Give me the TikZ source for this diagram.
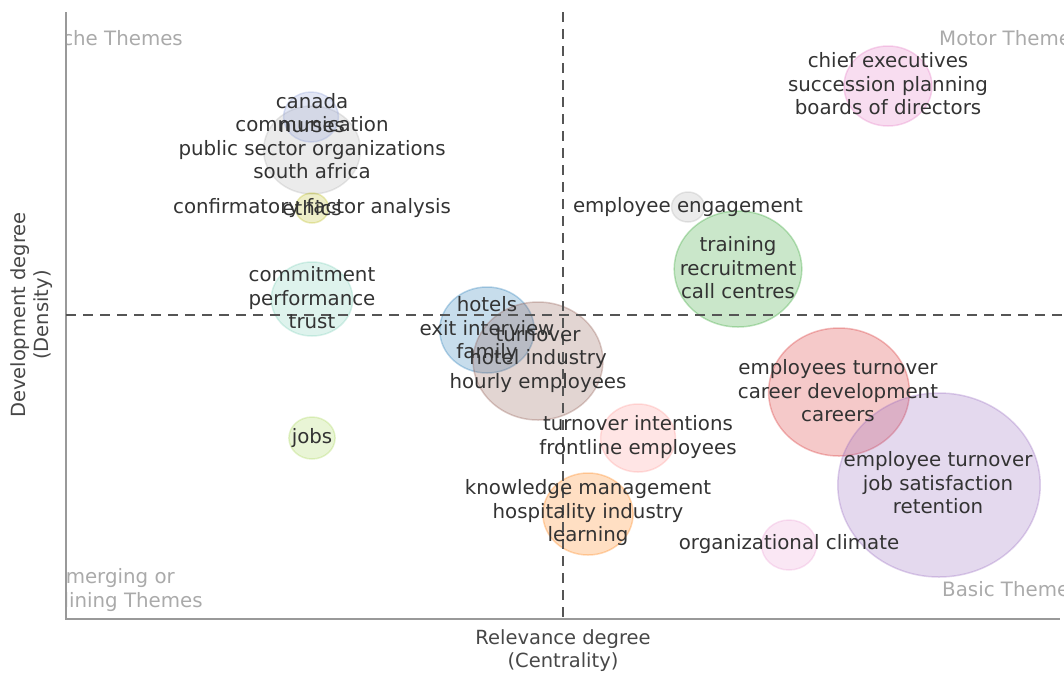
\documentclass[tikz,border=0pt]{standalone}
\usepackage{fontspec}
\setmainfont{DejaVu Sans}
\usetikzlibrary{shapes.geometric}

\definecolor{txtgray}{HTML}{333333}
\definecolor{axisgray}{HTML}{999999}
\definecolor{quadgray}{HTML}{AAAAAA}
\definecolor{dashgray}{HTML}{555555}
\definecolor{cPink}{HTML}{E377C2}
\definecolor{cBlue}{HTML}{1F77B4}
\definecolor{cGray}{HTML}{B0B0B0}
\definecolor{cOlive}{HTML}{BCBD22}
\definecolor{cTeal}{HTML}{7CCFB8}
\definecolor{cLime}{HTML}{A8D65A}
\definecolor{cBrown}{HTML}{8C564B}
\definecolor{cSalmon}{HTML}{FF9896}
\definecolor{cOrange}{HTML}{FF7F0E}
\definecolor{cGreen}{HTML}{2CA02C}
\definecolor{cRed}{HTML}{D62728}
\definecolor{cPurple}{HTML}{9467BD}
\definecolor{cLav}{HTML}{8E9FD8}

\newcommand{\lblfont}{\fontsize{19.8}{23.5}\selectfont}

\tikzset{
  bubble/.style={ellipse, inner sep=0pt, minimum width=2.2*#1, minimum height=2*#1},
  bcol/.style={fill=#1, fill opacity=0.25, draw=#1, draw opacity=0.3, line width=1.5pt},
  term/.style={text=txtgray, align=center, font=\lblfont, inner sep=0pt},
  quad/.style={text=quadgray, align=center, font=\lblfont, inner sep=0pt},
  axtitle/.style={text=txtgray!90, align=center, font=\fontsize{19.5}{23}\selectfont, inner sep=0pt}
}

\begin{document}
\begin{tikzpicture}[x=1pt, y=-1pt]
    \useasboundingbox (0,0) rectangle (1064,673);

    % Axes
    \coordinate (top) at (66,12);
    \coordinate (origin) at (66,619);
    \coordinate (right) at (1060,619);
    \coordinate (midtop) at (563,12);
    \coordinate (midbot) at (563,619);
    \coordinate (midleft) at (66,315);
    \coordinate (midright) at (1064,315);

    % Bubbles
    \node[bubble=40, bcol=cPink] (chief) at (888,86) {};
    \node[bubble=44, bcol=cGray] (commu) at (312,150) {};
    \node[bubble=25, bcol=cLav] (canada) at (311,117) {};
    \node[bubble=15, bcol=cOlive] (ethics) at (312,208) {};
    \node[bubble=37, bcol=cTeal] (commit) at (312,299) {};
    \node[bubble=21, bcol=cLime] (jobs) at (312,438) {};
    \node[bubble=43, bcol=cBlue] (hotels) at (487,330) {};
    \node[bubble=59, bcol=cBrown] (turn) at (538,361) {};
    \node[bubble=34, bcol=cSalmon] (intent) at (638,438) {};
    \node[bubble=41, bcol=cOrange] (know) at (588,514) {};
    \node[bubble=15, bcol=cGray] (engage) at (688,207) {};
    \node[bubble=58, bcol=cGreen] (train) at (738,269) {};
    \node[bubble=64, bcol=cRed] (career) at (839,392) {};
    \node[bubble=92, bcol=cPurple] (satis) at (939,485) {};
    \node[bubble=25, bcol=cPink!70] (climate) at (789,545) {};

    % Quadrant names
    \begin{scope}
      \clip (top) rectangle (midright |- origin);
      \node[quad, anchor=east] (niche) at (183,38) {Niche Themes};
      \node[quad, anchor=west] (motor) at (939,38) {Motor Themes};
      \node[quad] (emerg) at (114,590) {Emerging or\\Declining Themes};
      \node[quad, anchor=west] (basic) at (942,589) {Basic Themes};
    \end{scope}

    % Axis lines
    \draw[axisgray, line width=1.5pt] (top) -- (origin) -- (right);
    \draw[dashgray, line width=1.8pt, dash pattern=on 10pt off 7pt] (midtop) -- (midbot);
    \draw[dashgray, line width=1.8pt, dash pattern=on 10pt off 7pt] (midleft) -- (midright);

    % Labels
    \node[term] (chiefL) at (888,84) {chief executives\\succession planning\\boards of directors};
    \node[term] (canadaL) at (312,113) {canada\\nurses};
    \node[term] (commuL) at (312,148) {communication\\public sector organizations\\south africa};
    \node[term] (cfaL) at (312,208) {confirmatory factor analysis};
    \node[term] (ethicsL) at (ethics) {ethics};
    \node[term] (commitL) at (312,298) {commitment\\performance\\trust};
    \node[term] (jobsL) at (jobs) {jobs};
    \node[term] (hotelsL) at (487,330) {hotels\\exit interview\\family};
    \node[term] (turnL) at (538,360) {turnover\\hotel industry\\hourly employees};
    \node[term] (intentL) at (638,437) {turnover intentions\\frontline employees};
    \node[term] (knowL) at (588,513) {knowledge management\\hospitality industry\\learning};
    \node[term] (engageL) at (engage) {employee engagement};
    \node[term] (trainL) at (738,268) {training\\recruitment\\call centres};
    \node[term] (careerL) at (838,391) {employees turnover\\career development\\careers};
    \node[term] (satisL) at (938,483) {employee turnover\\job satisfaction\\retention};
    \node[term] (climateL) at (789,544) {organizational climate};

    % Axis titles
    \node[axtitle] (xtitle) at (563,651) {Relevance degree\\(Centrality)};
    \node[axtitle, rotate=90] (ytitle) at (32,315) {Development degree\\(Density)};
\end{tikzpicture}
\end{document}
